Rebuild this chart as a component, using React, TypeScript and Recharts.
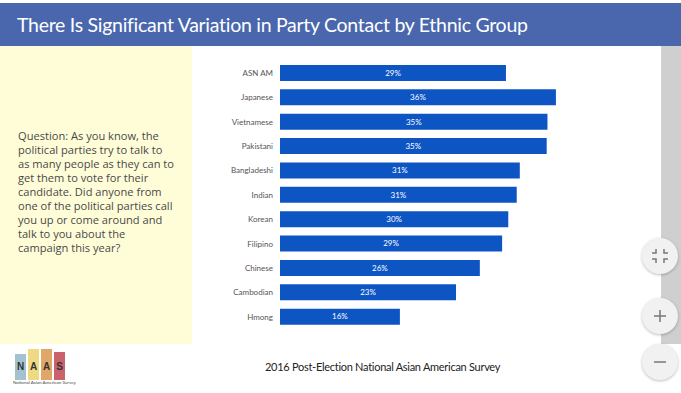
import { BarChart, Bar, XAxis, YAxis, LabelList } from 'recharts';

const groups = ['ASN AM', 'Japanese', 'Vietnamese', 'Pakistani', 'Bangladeshi', 'Indian', 'Korean', 'Filipino', 'Chinese', 'Cambodian', 'Hmong'];
const shares = [29.4, 35.9, 34.8, 34.7, 31.2, 30.8, 29.7, 28.9, 26.0, 22.9, 15.6];
const shareLabels = ['29%', '36%', '35%', '35%', '31%', '31%', '30%', '29%', '26%', '23%', '16%'];

const logoLetters = ['N', 'A', 'A', 'S'];
const logoColors = ['#a3c2cf', '#eeda82', '#e0a768', '#c9626b'];
const logoTops = [354, 349, 349, 352];

const questionLines = [
  'Question: As you know, the',
  'political parties try to talk to',
  'as many people as they can to',
  'get them to vote for their',
  'candidate. Did anyone from',
  'one of the political parties call',
  'you up or come around and',
  'talk to you about the',
  'campaign this year?',
];

const data = groups.map((group, i) => ({ group, share: shares[i], label: shareLabels[i] }));

const titleFont = 'Lato, sans-serif';

function RoundButton({ top, children }: { top: number; children: React.ReactNode }) {
  return (
    <div
      style={{
        position: 'absolute',
        left: 642,
        top,
        width: 36,
        height: 36,
        borderRadius: '50%',
        background: '#f1f1f1',
        boxShadow: '0 1px 3px rgba(0,0,0,0.25)',
      }}
    >
      <svg width={36} height={36}>{children}</svg>
    </div>
  );
}

export default function App() {
  return (
    <div style={{ position: 'absolute', left: 0, top: 0, width: 681, height: 393, background: '#fff', overflow: 'hidden' }}>
      <div
        style={{
          position: 'absolute',
          left: 0,
          top: 3,
          width: 681,
          height: 43,
          background: '#4a67ae',
          color: '#fff',
          fontFamily: titleFont,
          fontSize: 19.5,
          letterSpacing: -0.28,
          lineHeight: '43px',
          paddingLeft: 17,
          boxSizing: 'border-box',
          whiteSpace: 'nowrap',
        }}
      >
        There Is Significant Variation in Party Contact by Ethnic Group
      </div>

      <div style={{ position: 'absolute', left: 0, top: 46, width: 192, height: 298, background: '#fffdd8' }} />
      <div style={{ position: 'absolute', left: 661, top: 46, width: 20, height: 298, background: '#cfcfcf' }} />

      <div
        style={{
          position: 'absolute',
          left: 18,
          top: 129,
          fontFamily: '"Open Sans", sans-serif',
          fontSize: 11.1,
          lineHeight: '14px',
          color: '#484848',
          whiteSpace: 'nowrap',
        }}
      >
        {questionLines.map((line) => (
          <div key={line}>{line}</div>
        ))}
      </div>

      <div style={{ position: 'absolute', left: 192, top: 61 }}>
        <BarChart
          layout="vertical"
          width={460}
          height={268}
          data={data}
          margin={{ top: 0, right: 0, bottom: 0, left: 0 }}
          barSize={16}
        >
          <XAxis type="number" hide domain={[0, 48.4]} />
          <YAxis
            type="category"
            dataKey="group"
            width={88}
            axisLine={false}
            tickLine={false}
            tickMargin={1}
            interval={0}
            tick={{ fontFamily: titleFont, fontSize: 8, fill: '#555' }}
          />
          <Bar dataKey="share" fill="#0e55c4" isAnimationActive={false}>
            <LabelList dataKey="label" position="center" fill="#fff" fontFamily={titleFont} fontSize={8} />
          </Bar>
        </BarChart>
      </div>

      {logoLetters.map((letter, i) => (
        <div
          key={i}
          style={{
            position: 'absolute',
            left: 15 + i * 13,
            top: logoTops[i],
            width: 11,
            height: 380 - logoTops[i],
            background: logoColors[i],
            fontFamily: 'Liberation Sans, sans-serif',
            fontWeight: 700,
            fontSize: 10,
            color: '#333',
            textAlign: 'center',
            lineHeight: `${2 * (367 - logoTops[i])}px`,
          }}
        >
          {letter}
        </div>
      ))}
      <div style={{ position: 'absolute', left: 13, top: 380, fontFamily: titleFont, fontSize: 4.5, lineHeight: '5px', color: '#444', whiteSpace: 'nowrap' }}>
        National Asian American Survey
      </div>

      <div
        style={{
          position: 'absolute',
          left: 265,
          top: 360,
          fontFamily: titleFont,
          fontSize: 11,
          letterSpacing: -0.28,
          color: '#222',
          whiteSpace: 'nowrap',
        }}
      >
        2016 Post-Election National Asian American Survey
      </div>

      <RoundButton top={238}>
        <path d="M14 11v4h-4M22 11v4h4M14 25v-4h-4M22 25v-4h4" fill="none" stroke="#777" strokeWidth={1.5} />
      </RoundButton>
      <RoundButton top={298}>
        <path d="M12 18h12M18 12v12" fill="none" stroke="#777" strokeWidth={1.5} />
      </RoundButton>
      <RoundButton top={344}>
        <path d="M12 18h12" fill="none" stroke="#777" strokeWidth={1.5} />
      </RoundButton>
    </div>
  );
}
